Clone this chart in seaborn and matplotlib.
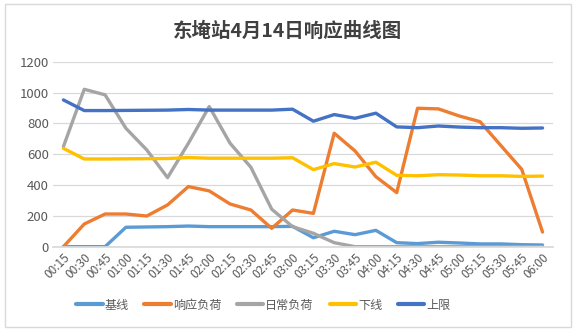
import matplotlib
matplotlib.use("Agg")
import matplotlib.pyplot as plt
import seaborn as sns
import pandas as pd
from matplotlib.patches import Rectangle

times = ["00:15","00:30","00:45","01:00","01:15","01:30","01:45","02:00","02:15","02:30","02:45","03:00",
         "03:15","03:30","03:45","04:00","04:15","04:30","04:45","05:00","05:15","05:30","05:45","06:00"]
baseline = [0, 0, 0, 126, 128, 130, 134, 130, 130, 130, 130, 132,
            58, 100, 78, 106, 26, 20, 29, 24, 18, 18, 13, 11]
response = [0, 147, 212, 212, 199, 271, 390, 362, 277, 238, 119, 238,
            216, 736, 621, 454, 351, 898, 894, 848, 811, 656, 502, 95]
daily = [649, 1021, 985, 768, 628, 448, 671, 909, 671, 515, 243, 130,
         87, 26, 0, 0, 0, 0, 0, 0, 0, 0, 0, 0]
lower = [638, 569, 569, 570, 571, 572, 578, 574, 574, 574, 574, 577,
         500, 539, 517, 548, 463, 460, 467, 465, 460, 460, 456, 458]
upper = [952, 883, 883, 884, 885, 886, 890, 886, 886, 886, 886, 892,
         814, 857, 833, 866, 777, 772, 783, 776, 772, 772, 768, 770]
series_names = ["基线", "响应负荷", "日常负荷", "下线", "上限"]
colors = ["#5B9BD5", "#ED7D31", "#A5A5A5", "#FFC000", "#4472C4"]
yticks = [0, 200, 400, 600, 800, 1000, 1200]

sns.set_theme(style="white")
plt.rcParams['font.family'] = ['Noto Sans CJK SC', 'DejaVu Sans']

rows = []
for name, vals in zip(series_names, [baseline, response, daily, lower, upper]):
    for i, (t, v) in enumerate(zip(times, vals)):
        rows.append({"idx": i, "time": t, "value": v, "series": name})
df = pd.DataFrame(rows)

fig = plt.figure(figsize=(5.76, 3.31), dpi=100)
fig.patches.append(Rectangle((0.008, 0.012), 0.984, 0.976, transform=fig.transFigure,
                             fill=False, edgecolor="#D9D9D9", linewidth=1))
ax = fig.add_axes([0.092, 0.2547, 0.868, 0.5589])
sns.lineplot(data=df, x="idx", y="value", hue="series", hue_order=series_names,
             palette=colors, linewidth=2.4, ax=ax, legend=True, sort=False)

ax.set_xlim(-0.5, len(times) - 0.5)
ax.set_ylim(0, 1200)
ax.set_yticks(yticks)
ax.set_yticklabels([str(v) for v in yticks], color="#595959", fontsize=9.5)
ax.set_xticks(range(len(times)))
ax.set_xticklabels(times, rotation=45, ha="right", rotation_mode="anchor",
                   color="#595959", fontsize=8.5)
ax.tick_params(axis="both", length=0, pad=3)
ax.grid(axis="y", color="#D9D9D9", linewidth=0.9)
ax.set_axisbelow(True)
for s in ["top", "right", "left"]:
    ax.spines[s].set_visible(False)
ax.spines["bottom"].set_color("#D9D9D9")
ax.set_xlabel("")
ax.set_ylabel("")

fig.text(0.5, 0.905, "东埯站4月14日响应曲线图", ha="center", va="center",
         fontsize=14, color="#404040", fontweight="bold")

handles, labels = ax.get_legend_handles_labels()
ax.get_legend().remove()
leg = fig.legend(handles, labels, loc="center", bbox_to_anchor=(0.457, 0.078), ncol=5,
                 frameon=False, fontsize=8.7, handlelength=2.2, columnspacing=1.3,
                 handletextpad=0.15)
for t in leg.get_texts():
    t.set_color("#595959")
for l in leg.get_lines():
    l.set_linewidth(3)

fig.savefig("out.png", dpi=100)
